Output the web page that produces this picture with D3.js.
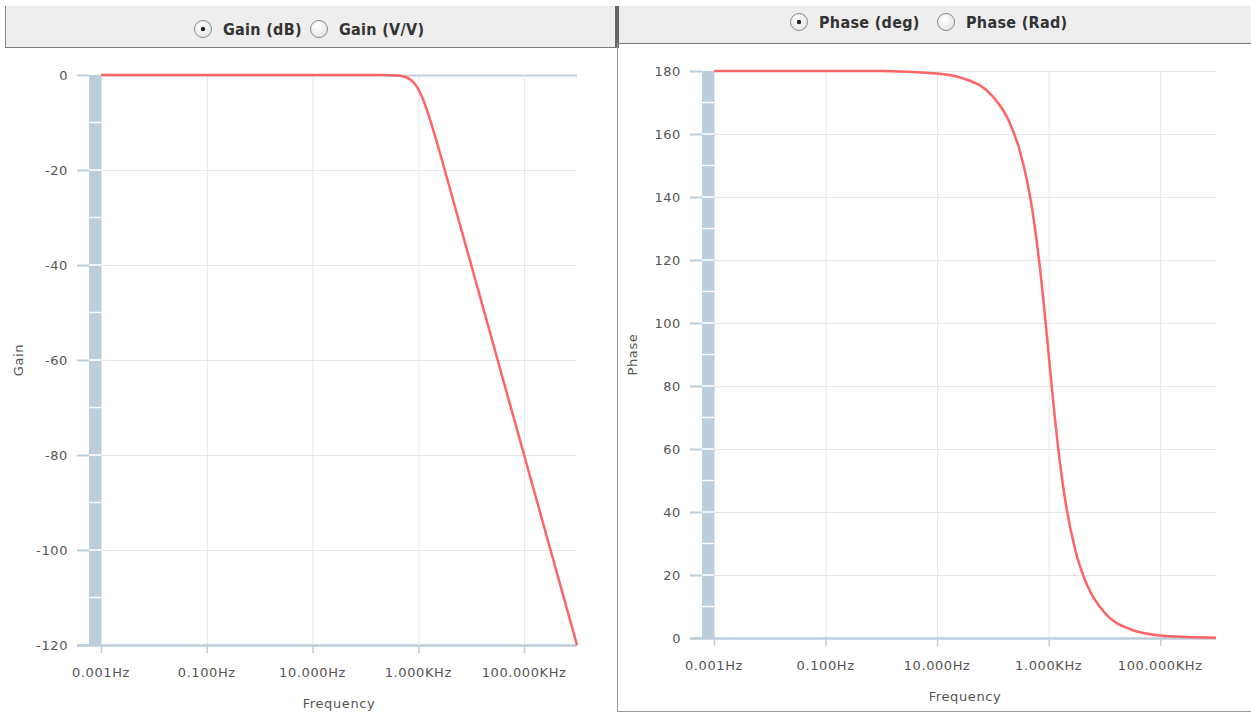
<!DOCTYPE html>
<html>
<head>
<meta charset="utf-8">
<script src="https://cdn.jsdelivr.net/npm/d3@7"></script>
<style>
  body { margin: 0; background: #fff; }
  svg { display: block; }
  text { font-family: "DejaVu Sans", sans-serif; }
</style>
</head>
<body>
<div id="vis"></div>
<script>
// frequency sweep (Hz) and the readings taken off the two curves
const freqs = [0.001, 0.01, 0.1, 1, 10, 30, 100, 200, 300, 400, 500, 600, 700, 800, 900,
               1000, 1200, 1500, 2000, 3000, 5000, 10000, 30000, 100000, 300000, 1000000];
const gainDb = [0, 0, 0, 0, 0, 0, 0, -0.01, -0.04, -0.11, -0.26, -0.53, -0.93, -1.49, -2.19,
                -3.01, -4.88, -7.83, -12.3, -19.1, -28.0, -40.0, -59.1, -80.0, -99.1, -120.0];
const phaseDeg = [180, 180, 180, 180, 179.2, 177.6, 171.9, 163.6, 155.0, 146.0, 136.7, 127.0, 117.3, 107.7, 98.5,
                  90.0, 75.5, 59.5, 43.3, 27.9, 16.4, 8.1, 2.7, 0.8, 0.3, 0.1];

const freqTicks = [0.001, 0.1, 10, 1000, 100000];
const freqTickLabels = ["0.001Hz", "0.100Hz", "10.000Hz", "1.000KHz", "100.000KHz"];
const gainTicks = [0, -20, -40, -60, -80, -100, -120];
const phaseTicks = [0, 20, 40, 60, 80, 100, 120, 140, 160, 180];

const W = 1251, H = 713;
const bandColor = "#bccddc";
const lineColor = "#ff6464";

const svg = d3.select("#vis").append("svg")
    .attr("width", W)
    .attr("height", H);

svg.append("rect").attr("width", W).attr("height", H).attr("fill", "#fff");

const defs = svg.append("defs");
const grad = defs.append("radialGradient").attr("id", "radioFill")
    .attr("cx", "40%").attr("cy", "35%").attr("r", "70%");
grad.append("stop").attr("offset", "0%").attr("stop-color", "#ffffff");
grad.append("stop").attr("offset", "100%").attr("stop-color", "#e4e4e4");

// ---- header bars with radio buttons ----
function radio(g, cx, cy, checked) {
    g.append("circle")
        .attr("cx", cx).attr("cy", cy).attr("r", 8.5)
        .attr("fill", "url(#radioFill)")
        .attr("stroke", "#8a8a8a")
        .attr("stroke-width", 1);
    if (checked) {
        g.append("circle").attr("cx", cx).attr("cy", cy).attr("r", 2.2).attr("fill", "#222");
    }
}

function header(x, y, w, h, items) {
    const g = svg.append("g");
    g.append("rect")
        .attr("x", x).attr("y", y).attr("width", w).attr("height", h)
        .attr("fill", "#eeeeee");
    items.forEach(it => {
        radio(g, it.cx, it.cy, it.checked);
        g.append("text")
            .attr("x", it.cx + 20)
            .attr("y", it.cy + 6)
            .style("font-family", "'DejaVu Sans Condensed', 'DejaVu Sans', sans-serif")
            .style("font-weight", "bold")
            .style("font-size", "16px")
            .style("letter-spacing", "0.3px")
            .attr("fill", "#333")
            .text(it.label);
    });
    return g;
}

const hl = header(6, 6, 610, 41, [
    { cx: 203, cy: 29, checked: true, label: "Gain (dB)" },
    { cx: 319, cy: 29, checked: false, label: "Gain (V/V)" }
]);
hl.append("line").attr("x1", 5.5).attr("x2", 5.5).attr("y1", 6).attr("y2", 48).attr("stroke", "#888");
hl.append("line").attr("x1", 5).attr("x2", 617).attr("y1", 47.5).attr("y2", 47.5).attr("stroke", "#7a7a7a");
hl.append("rect").attr("x", 615).attr("y", 6).attr("width", 4).attr("height", 42).attr("fill", "#666");

const hr = header(619, 6, 632, 37, [
    { cx: 799, cy: 22, checked: true, label: "Phase (deg)" },
    { cx: 946, cy: 22, checked: false, label: "Phase (Rad)" }
]);
hr.append("line").attr("x1", 619).attr("x2", W).attr("y1", 43.5).attr("y2", 43.5).attr("stroke", "#7a7a7a");

// right panel border
svg.append("line").attr("x1", 617.5).attr("x2", 617.5).attr("y1", 43).attr("y2", 712).attr("stroke", "#999");
svg.append("line").attr("x1", 617).attr("x2", W).attr("y1", 711.5).attr("y2", 711.5).attr("stroke", "#999");

// ---- chart panel ----
function drawChart(cfg) {
    const g = svg.append("g");

    const x = d3.scaleLog()
        .domain([0.001, 1000000])
        .range([cfg.left, cfg.right]);

    const y = d3.scaleLinear()
        .domain(cfg.yDomain)
        .range([cfg.bottom, cfg.top]);

    // horizontal grid
    g.selectAll("line.hgrid")
        .data(cfg.yTicks)
        .enter().append("line")
        .attr("class", "hgrid")
        .attr("x1", cfg.left).attr("x2", cfg.right)
        .attr("y1", d => y(d) + 0.5).attr("y2", d => y(d) + 0.5)
        .attr("stroke", d => d === cfg.yDomain[1] && cfg.topBlue ? "#c5d0dc" : "#e6e6e6")
        .attr("stroke-width", d => d === cfg.yDomain[1] && cfg.topBlue ? 2 : 1);

    // vertical grid
    g.selectAll("line.vgrid")
        .data(freqTicks)
        .enter().append("line")
        .attr("class", "vgrid")
        .attr("x1", d => x(d) + 0.5).attr("x2", d => x(d) + 0.5)
        .attr("y1", cfg.top).attr("y2", cfg.bottom)
        .attr("stroke", "#e6e6e6");

    // y axis band with separators every 10 units
    g.append("rect")
        .attr("x", cfg.left - 12).attr("y", cfg.top)
        .attr("width", 12).attr("height", cfg.bottom - cfg.top)
        .attr("fill", bandColor);

    const sepVals = d3.range(cfg.yDomain[0] + 10, cfg.yDomain[1], 10);
    g.selectAll("line.sep")
        .data(sepVals)
        .enter().append("line")
        .attr("class", "sep")
        .attr("x1", cfg.left - 12).attr("x2", cfg.left)
        .attr("y1", d => y(d)).attr("y2", d => y(d))
        .attr("stroke", "#fff")
        .attr("stroke-width", 1.5);

    // y tick marks + labels
    g.selectAll("line.ytick")
        .data(cfg.yTicks)
        .enter().append("line")
        .attr("class", "ytick")
        .attr("x1", cfg.left - 24).attr("x2", cfg.left - 12)
        .attr("y1", d => y(d) + 0.5).attr("y2", d => y(d) + 0.5)
        .attr("stroke", bandColor)
        .attr("stroke-width", 2);

    g.selectAll("text.ylab")
        .data(cfg.yTicks)
        .enter().append("text")
        .attr("class", "ylab")
        .attr("x", cfg.left - 33)
        .attr("y", d => y(d) + 5)
        .attr("text-anchor", "end")
        .style("font-size", "13px")
        .style("letter-spacing", "0.6px")
        .attr("fill", "#555")
        .text(d => d);

    // x axis line + ticks
    g.append("line")
        .attr("x1", cfg.left - 24).attr("x2", cfg.right)
        .attr("y1", cfg.bottom + 0.5).attr("y2", cfg.bottom + 0.5)
        .attr("stroke", bandColor)
        .attr("stroke-width", 2.5);

    g.selectAll("line.xtick")
        .data(freqTicks)
        .enter().append("line")
        .attr("class", "xtick")
        .attr("x1", d => x(d) + 0.5).attr("x2", d => x(d) + 0.5)
        .attr("y1", cfg.bottom).attr("y2", cfg.bottom + 8)
        .attr("stroke", bandColor)
        .attr("stroke-width", 1.5);

    g.selectAll("text.xlab")
        .data(freqTicks)
        .enter().append("text")
        .attr("class", "xlab")
        .attr("x", d => x(d))
        .attr("y", cfg.bottom + 32)
        .attr("text-anchor", "middle")
        .style("font-size", "13px")
        .style("letter-spacing", "0.6px")
        .attr("fill", "#555")
        .text((d, i) => freqTickLabels[i]);

    // axis titles
    g.append("text")
        .attr("x", (cfg.left + cfg.right) / 2)
        .attr("y", cfg.bottom + 63)
        .attr("text-anchor", "middle")
        .style("font-size", "13px")
        .style("letter-spacing", "0.6px")
        .attr("fill", "#555")
        .text("Frequency");

    g.append("text")
        .attr("transform", `translate(${cfg.yTitleX}, ${(cfg.top + cfg.bottom) / 2}) rotate(-90)`)
        .attr("text-anchor", "middle")
        .style("font-size", "13px")
        .style("letter-spacing", "0.6px")
        .attr("fill", "#555")
        .text(cfg.yTitle);

    // curve
    const line = d3.line()
        .x((d, i) => x(freqs[i]))
        .y(d => y(d))
        .curve(d3.curveMonotoneX);

    g.append("path")
        .datum(cfg.values)
        .attr("fill", "none")
        .attr("stroke", lineColor)
        .attr("stroke-width", 2.5)
        .attr("stroke-linejoin", "round")
        .attr("d", line);
}

drawChart({
    left: 101, right: 577, top: 75, bottom: 645,
    yDomain: [-120, 0], yTicks: gainTicks,
    values: gainDb, yTitle: "Gain", yTitleX: 23, topBlue: true
});

drawChart({
    left: 714, right: 1216, top: 71, bottom: 638,
    yDomain: [0, 180], yTicks: phaseTicks,
    values: phaseDeg, yTitle: "Phase", yTitleX: 637, topBlue: false
});
</script>
</body>
</html>
